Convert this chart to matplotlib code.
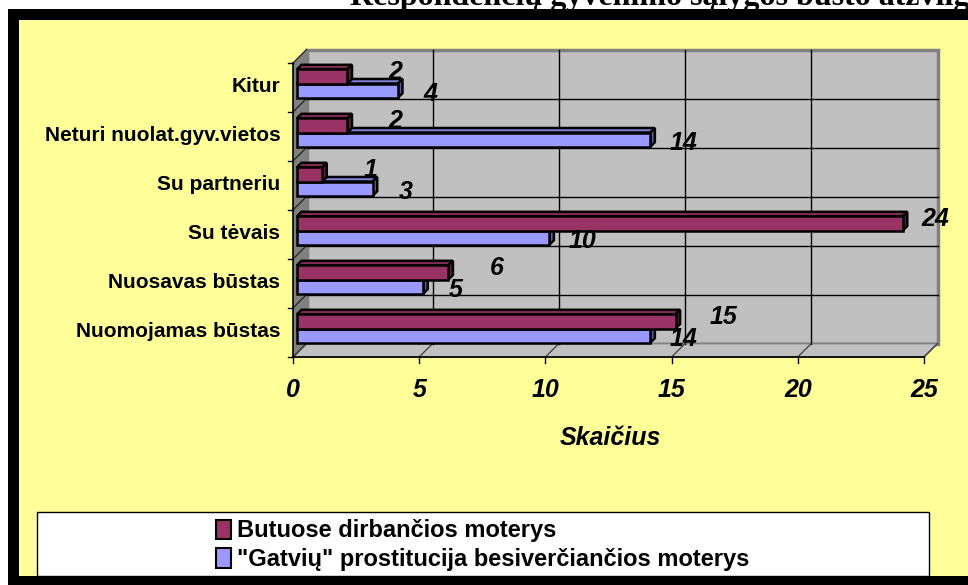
import numpy as np
import matplotlib
matplotlib.use("Agg")
import matplotlib.pyplot as plt
from matplotlib.patches import Polygon, Rectangle, Patch
from matplotlib.transforms import IdentityTransform
from matplotlib.lines import Line2D

# ---- data ----
categories = ["Nuomojamas būstas", "Nuosavas būstas", "Su tėvais",
              "Su partneriu", "Neturi nuolat.gyv.vietos", "Kitur"]
brothel = [15, 6, 24, 1, 2, 2]          # Butuose dirbančios moterys
street = [14, 5, 10, 3, 14, 4]          # "Gatvių" prostitucija ...
series_names = ["Butuose dirbančios moterys",
                "\"Gatvių\" prostitucija besiverčiančios moterys"]
xticks = [0, 5, 10, 15, 20, 25]
title = "Respondenčių gyvenimo sąlygos būsto atžvilgiu"
xlabel = "Skaičius"

W, H = 968, 585
fig = plt.figure(figsize=(W / 100, H / 100), dpi=100)
fig.patch.set_facecolor("white")

def fx(px):
    return px / W

def fy(py):
    return 1 - py / H

# outer frame: black border + yellow fill
fig.patches.append(Rectangle((fx(8), fy(600)), 1.2, fy(9) - fy(600),
                             transform=fig.transFigure, facecolor="black",
                             edgecolor="none", zorder=-3))
fig.patches.append(Rectangle((fx(19), fy(576)), 1.2, fy(20) - fy(576),
                             transform=fig.transFigure, facecolor="#FFFF99",
                             edgecolor="none", zorder=-2))

fig.text(fx(350), fy(5), title, fontsize=23, fontweight="bold",
         family="Liberation Serif", ha="left", va="baseline")

# front plane of the 3D plot
x0, x1, ytop, ybot = 293, 924, 63, 357
ax = fig.add_axes([fx(x0), fy(ybot), fx(x1) - fx(x0), fy(ytop) - fy(ybot)])
ax.set_zorder(1)
ax.set_xlim(0, 25)
ax.set_ylim(-0.5, len(categories) - 0.5)
ax.patch.set_alpha(0)
for s in ax.spines.values():
    s.set_visible(False)

D = 13.5   # depth of chart (px)
fig.canvas.draw()
T = ax.transData

def P(x, y, dpx=0.0):
    p = T.transform((x, y))
    return (p[0] + dpx, p[1] + dpx)

idt = IdentityTransform()
def poly(pts, fc, ec="none", lw=0.0, z=1):
    ax.add_patch(Polygon(pts, closed=True, facecolor=fc, edgecolor=ec,
                         linewidth=lw, transform=idt, clip_on=False, zorder=z,
                         joinstyle="miter"))

def line(pts, color="black", lw=1.0, z=2):
    xs = [p[0] for p in pts]
    ys = [p[1] for p in pts]
    ax.add_line(Line2D(xs, ys, color=color, linewidth=lw, transform=idt,
                       clip_on=False, zorder=z))

ylo, yhi = -0.5, len(categories) - 0.5
# back wall
poly([P(0, ylo, D), P(25, ylo, D), P(25, yhi, D), P(0, yhi, D)],
     "#C0C0C0", "#808080", 2.5, z=0.5)
# left wall
poly([P(0, ylo), P(0, yhi), P(0, yhi, D), P(0, ylo, D)], "#808080", z=0.6)
# floor
poly([P(0, ylo), P(25, ylo), P(25, ylo, D), P(0, ylo, D)],
     "#C0C0C0", "#808080", 1.2, z=0.6)

# gridlines on back wall
for v in xticks[1:-1]:
    line([P(v, ylo, D), P(v, yhi, D)], "black", 1.0, z=0.8)
bounds = np.arange(len(categories) + 1) - 0.5
for b in bounds[1:-1]:
    line([P(0, b, D), P(25, b, D)], "black", 1.0, z=0.8)
# diagonals on left wall and floor
for b in bounds:
    line([P(0, b), P(0, b, D)], "#202020", 0.9, z=0.9)
    line([P(0, b), (P(0, b)[0] - 5, P(0, b)[1])], "black", 1.0, z=0.9)
for v in xticks:
    line([P(v, ylo), P(v, ylo, D)], "#404040", 0.9, z=0.9)
    line([P(v, ylo), (P(v, ylo)[0], P(v, ylo)[1] - 6)], "black", 1.0, z=0.9)
# axis lines
line([P(0, ylo), P(0, yhi)], "black", 1.2, z=0.95)
line([P(0, ylo), P(25, ylo)], "black", 1.2, z=0.95)

# bars
h = 0.29
db = 4.0     # depth position of bars
t = 4.5      # bar depth
red = "#993366"
blue = "#9999FF"

def shade(c, f):
    r, g, b = matplotlib.colors.to_rgb(c)
    return (r * f, g * f, b * f)

def bar3d(v, yb, ytp, color):
    a = P(0, yb, db)
    b = P(v, yb, db)
    c = P(v, ytp, db)
    d = P(0, ytp, db)
    lw = 1.8
    # top face
    poly([d, c, (c[0] + t, c[1] + t), (d[0] + t, d[1] + t)],
         shade(color, 0.85), "black", lw, z=3)
    # side face
    poly([b, c, (c[0] + t, c[1] + t), (b[0] + t, b[1] + t)],
         shade(color, 0.6), "black", lw, z=3)
    # front face
    poly([a, b, c, d], color, "black", lw, z=3)

lab_kw = dict(fontsize=18, fontweight="bold", fontstyle="italic",
              family="Liberation Sans", ha="center", va="center",
              transform=idt, zorder=5, clip_on=False)
for i, (vr, vb) in enumerate(zip(brothel, street)):
    bar3d(vb, i - h, i, blue)
    bar3d(vr, i, i + h, red)
for i, (vr, vb) in enumerate(zip(brothel, street)):
    pr = P(min(vr + 1.9, 25.3), i + h / 2, db)
    pb = P(vb + 1.3, i - h / 2, db)
    ax.text(pr[0], pr[1] + 4, str(vr), **lab_kw)
    ax.text(pb[0], pb[1] - 3, str(vb), **lab_kw)

# ticks / labels
ax.set_yticks(np.arange(len(categories)) + 0.07)
ax.set_yticklabels(categories, fontsize=15, fontweight="bold",
                   family="Liberation Sans")
ax.set_xticks(xticks)
ax.set_xticklabels([str(v) for v in xticks], fontsize=18, fontweight="bold",
                   fontstyle="italic", family="Liberation Sans")
ax.tick_params(axis="y", length=0, pad=9)
ax.tick_params(axis="x", length=0, pad=15)

fig.text(fx(610), fy(438), xlabel, fontsize=18, fontweight="bold",
         fontstyle="italic", family="Liberation Sans", ha="center",
         va="center")

# legend
fig.patches.append(Rectangle((fx(37), fy(576)), fx(929) - fx(37),
                             fy(512) - fy(576), transform=fig.transFigure,
                             facecolor="white", edgecolor="black",
                             linewidth=1.0, zorder=-1))
handles = [Patch(facecolor=red, edgecolor="black", linewidth=1.5),
           Patch(facecolor=blue, edgecolor="black", linewidth=1.5)]
leg = fig.legend(handles, series_names, loc="upper left",
                 bbox_to_anchor=(fx(207), fy(510)), frameon=False,
                 prop=dict(family="Liberation Sans", weight="bold", size=17),
                 handlelength=0.6, handleheight=0.9, handletextpad=0.25,
                 labelspacing=0.25, borderaxespad=0)
leg.set_zorder(2)

fig.savefig("out.png", dpi=100)
